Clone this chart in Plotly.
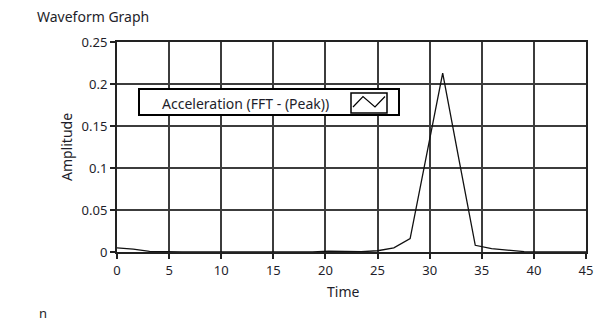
import plotly.graph_objects as go

# ---- data ----
dt = 1.5625
amplitude = [0.005, 0.0035, 0.0008, 0.0002, 0.0, 0.0, 0.0, 0.0, 0.0, 0.0,
             0.0, 0.0, 0.0001, 0.001, 0.001, 0.0003, 0.0015, 0.005, 0.016, 0.114,
             0.213, 0.11, 0.008, 0.004, 0.002, 0.0005, 0.0, 0.0, 0.0, 0.0]
time = [i * dt for i in range(len(amplitude))]
series_name = "Acceleration (FFT - (Peak))"
x_ticks = [0, 5, 10, 15, 20, 25, 30, 35, 40, 45]
y_ticks = [0, 0.05, 0.1, 0.15, 0.2, 0.25]

OFF = 8  # page body margin offset
W, H = 613 - OFF, 329 - OFF
L, T = 117 - OFF, 42 - OFF
R = W - (586 - OFF)
B = H - (252 - OFF)
pw, ph = W - L - R, H - T - B


def px(x):  # x in reference-window pixels -> paper
    return (x - OFF - L) / pw


def py(y):
    return (H - B - (y - OFF)) / ph


FONT = "Noto Sans"
TXT = "#1e1e2a"

fig = go.Figure()
fig.add_trace(go.Scatter(x=time, y=amplitude, mode="lines", name=series_name,
                         line=dict(color="#111111", width=1.3),
                         showlegend=False))

axis_common = dict(showgrid=True, gridcolor="#3c3c3c", gridwidth=1.6,
                   showline=True, linecolor="#222222", linewidth=2, mirror=True,
                   ticks="outside", ticklen=5, tickcolor="#222222", tickwidth=1.5,
                   zeroline=False,
                   tickfont=dict(family=FONT, size=13, color=TXT))

fig.update_xaxes(range=[0, 45], tickvals=x_ticks, **axis_common)
fig.update_yaxes(range=[0, 0.25], tickvals=y_ticks,
                 title=dict(text="Amplitude", font=dict(family=FONT, size=14, color=TXT), standoff=6),
                 **axis_common)

# custom legend box (text, then line icon), as in the original
shapes = [
    dict(type="rect", xref="paper", yref="paper",
         x0=px(139), x1=px(399), y0=py(115), y1=py(89),
         line=dict(color="#000000", width=2), fillcolor="white", layer="above"),
    dict(type="rect", xref="paper", yref="paper",
         x0=px(351), x1=px(387), y0=py(113), y1=py(93),
         line=dict(color="#000000", width=1.5), fillcolor="white", layer="above"),
    dict(type="path", xref="paper", yref="paper",
         path=f"M {px(353)} {py(107)} L {px(363)} {py(96.5)} L {px(375)} {py(107)} L {px(385)} {py(96.5)}",
         line=dict(color="#000000", width=1.2), layer="above"),
]

annotations = [
    dict(text=series_name, xref="paper", yref="paper", x=px(245), y=py(103),
         xanchor="center", yanchor="middle", showarrow=False,
         font=dict(family=FONT, size=14, color=TXT)),
    dict(text="Waveform Graph", xref="paper", yref="paper", x=px(35), y=py(17),
         xanchor="left", yanchor="middle", showarrow=False,
         font=dict(family=FONT, size=14, color=TXT)),
    dict(text="Time", xref="paper", yref="paper", x=px(343), y=py(291),
         xanchor="center", yanchor="middle", showarrow=False,
         font=dict(family=FONT, size=14, color=TXT)),
    dict(text="n", xref="paper", yref="paper", x=px(37), y=py(313),
         xanchor="left", yanchor="middle", showarrow=False,
         font=dict(family=FONT, size=13, color=TXT)),
]

fig.update_layout(width=W, height=H, margin=dict(l=L, r=R, t=T, b=B),
                  paper_bgcolor="white", plot_bgcolor="white",
                  shapes=shapes, annotations=annotations, showlegend=False)

fig.write_html("out.html")
